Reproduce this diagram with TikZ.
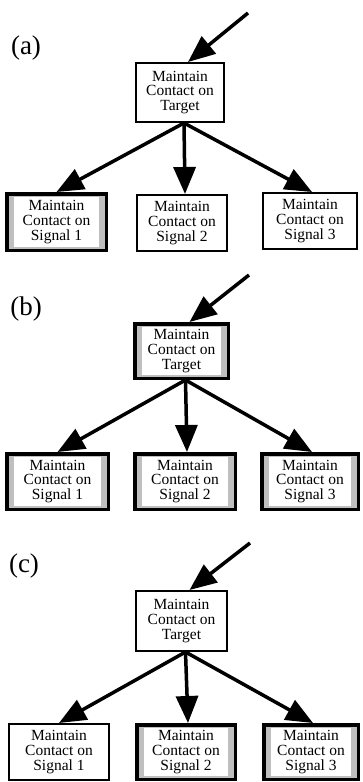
\documentclass[tikz,border=0pt]{standalone}
\usepackage{fontspec}
\setmainfont{Liberation Serif}
\usetikzlibrary{arrows.meta}
\tikzset{
  pbox/.style={draw, line width=2pt, fill=white, align=center, inner sep=0pt,
    font=\fontsize{15.5}{14.8}\selectfont},
  hbox/.style={draw, line width=3.5pt, fill=gray!50, align=center, inner sep=0pt,
    font=\fontsize{15.5}{14.8}\selectfont,
    path picture={\fill[white] ([xshift=7.5pt,yshift=-3pt]path picture bounding box.north west)
      rectangle ([xshift=-7.5pt,yshift=3pt]path picture bounding box.south east);}},
  conn/.style={line width=3.5pt, -{Triangle[length=27pt,width=22pt]}},
  lab/.style={font=\fontsize{27}{27}\selectfont, inner sep=0pt}
}
\begin{document}
\begin{tikzpicture}[x=1pt,y=-1pt]
\useasboundingbox (0,0) rectangle (362,782);
% ---------- (a)
\node[lab] (la) at (26,48) {(a)};
\node[pbox, minimum width=88pt, minimum height=59pt] (aT) at (180,92.5) {Maintain\\Contact on\\Target};
\node[hbox, minimum width=99.5pt, minimum height=56.5pt] (a1) at (56.5,222) {Maintain\\Contact on\\Signal 1};
\node[pbox, minimum width=90pt, minimum height=56pt] (a2) at (182,223) {Maintain\\Contact on\\Signal 2};
\node[pbox, minimum width=94pt, minimum height=56pt] (a3) at (310,221) {Maintain\\Contact on\\Signal 3};
\coordinate (ain) at (248,13);
\draw[conn] (ain) -- ([xshift=8pt]aT.north);
\draw[conn] ([xshift=4pt]aT.south) -- (a1.north);
\draw[conn] ([xshift=4pt]aT.south) -- ([xshift=3pt]a2.north);
\draw[conn] ([xshift=4pt]aT.south) -- ([xshift=2pt]a3.north);
% ---------- (b)
\node[lab] (lb) at (26,309) {(b)};
\node[hbox, minimum width=93.5pt, minimum height=54.5pt] (bT) at (181.5,351) {Maintain\\Contact on\\Target};
\node[hbox, minimum width=101.5pt, minimum height=55.5pt] (b1) at (57.5,481.5) {Maintain\\Contact on\\Signal 1};
\node[hbox, minimum width=100.5pt, minimum height=55.5pt] (b2) at (185,481.5) {Maintain\\Contact on\\Signal 2};
\node[hbox, minimum width=96.5pt, minimum height=55.5pt] (b3) at (310,481.5) {Maintain\\Contact on\\Signal 3};
\coordinate (bin) at (249,275);
\draw[conn] (bin) -- ([xshift=8pt]bT.north);
\draw[conn] ([xshift=4pt]bT.south) -- (b1.north);
\draw[conn] ([xshift=4pt]bT.south) -- ([xshift=2pt]b2.north);
\draw[conn] ([xshift=4pt]bT.south) -- ([xshift=2pt]b3.north);
% ---------- (c)
\node[lab] (lc) at (24,566) {(c)};
\node[pbox, minimum width=91pt, minimum height=60pt] (cT) at (181.5,621) {Maintain\\Contact on\\Target};
\node[pbox, minimum width=100pt, minimum height=56pt] (c1) at (59,752) {Maintain\\Contact on\\Signal 1};
\node[hbox, minimum width=98.5pt, minimum height=54.5pt] (c2) at (186,752) {Maintain\\Contact on\\Signal 2};
\node[hbox, minimum width=94.5pt, minimum height=54.5pt] (c3) at (311,752) {Maintain\\Contact on\\Signal 3};
\coordinate (cin) at (250,543);
\draw[conn] (cin) -- ([xshift=8pt]cT.north);
\draw[conn] ([xshift=4pt]cT.south) -- (c1.north);
\draw[conn] ([xshift=4pt]cT.south) -- ([xshift=2pt]c2.north);
\draw[conn] ([xshift=4pt]cT.south) -- ([xshift=2pt]c3.north);
\end{tikzpicture}
\end{document}
